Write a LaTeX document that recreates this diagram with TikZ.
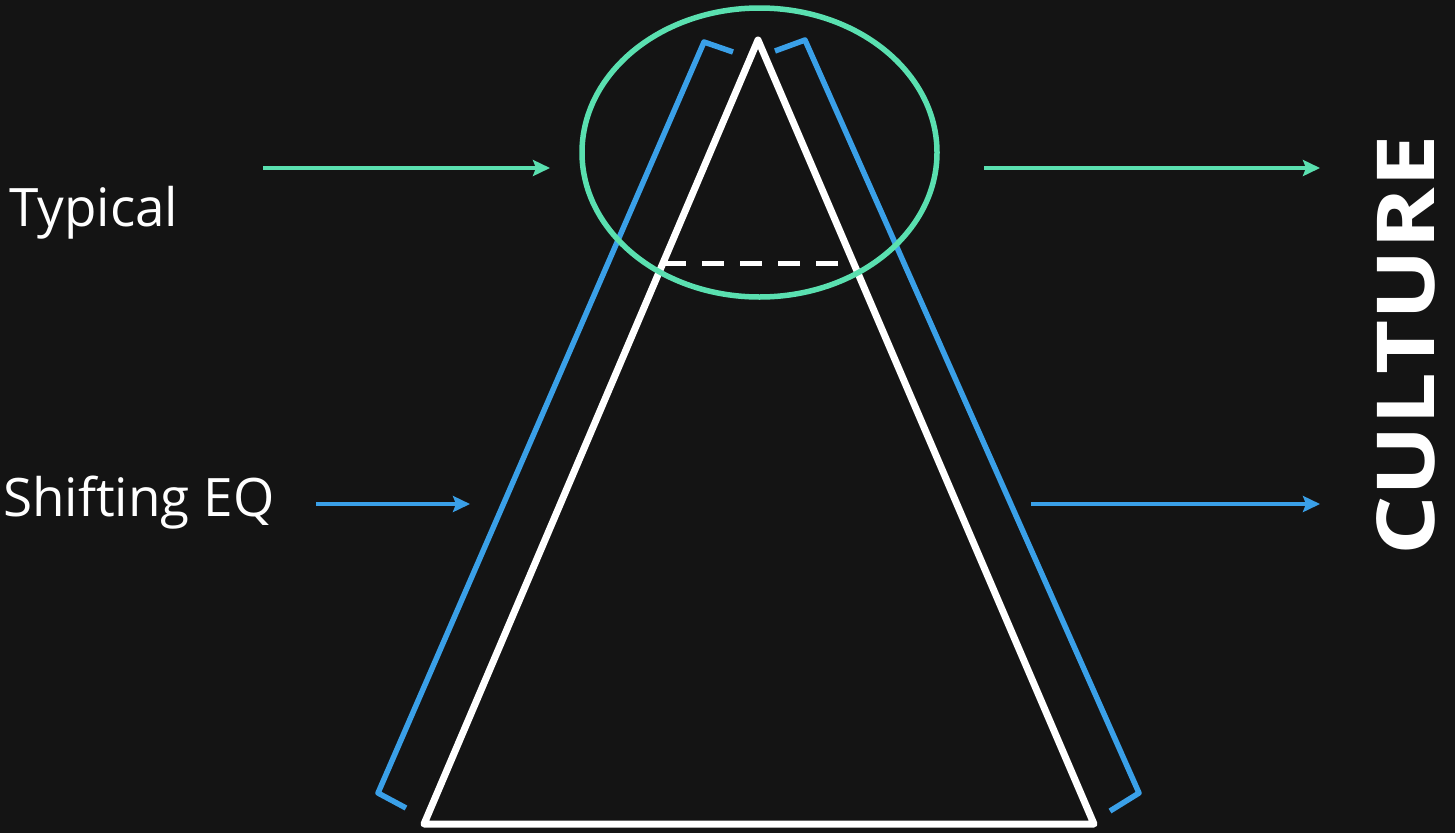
\documentclass[tikz,border=0pt]{standalone}
\usepackage{fontspec}
\setmainfont{Open Sans}
\usepackage{xcolor}
\usetikzlibrary{arrows.meta,shapes.geometric}

\definecolor{mint}{RGB}{90,224,176}
\definecolor{sky}{RGB}{58,160,232}
\definecolor{board}{RGB}{20,20,20}

\begin{document}
\begin{tikzpicture}[x=1pt,y=1pt,yscale=-1,
	pointer/.style={line width=4.5, -{Stealth[length=17,width=16,inset=3]}},
	sidetext/.style={text=white, inner sep=0pt, font=\fontsize{53}{60}\selectfont},
	]
	% background, sets the picture size
	\fill [board] (0,0) rectangle (1455,833);
	\useasboundingbox (0,0) rectangle (1455,833);

	% corners of the triangle
	\coordinate (apex) at (758,40);
	\coordinate (botL) at (424,824);
	\coordinate (botR) at (1094,824);

	%Shape: Triangle
	\draw [white, line width=7, line join=round] (apex) -- (botL) -- (botR) -- cycle;
	%Straight Lines: dashed cut
	\coordinate (cutL) at (664,263);
	\coordinate (cutR) at (855,263);
	\draw [white, line width=5, dash pattern={on 22 off 16}] (cutL) -- (cutR);

	%Shape: left bracket
	\coordinate (brLa) at (733,52);
	\coordinate (brLb) at (704,42);
	\coordinate (brLc) at (378,793);
	\coordinate (brLd) at (406,808);
	\draw [sky, line width=5.5, line join=round] (brLa) -- (brLb) -- (brLc) -- (brLd);
	%Shape: right bracket
	\coordinate (brRa) at (775,51);
	\coordinate (brRb) at (805,40);
	\coordinate (brRc) at (1139,793);
	\coordinate (brRd) at (1110,811);
	\draw [sky, line width=5.5, line join=round] (brRa) -- (brRb) -- (brRc) -- (brRd);

	%Shape: Ellipse
	\node (top) [draw=mint, line width=5.5, ellipse, minimum width=355, minimum height=289, inner sep=0pt] at (759.5,152.5) {};

	% Text Node
	\node (typ) [sidetext, anchor=base west] at (9,226) {Typical};
	% Text Node
	\node (shift) [sidetext, anchor=base west] at (3,516) {Shifting EQ};
	% Text Node
	\node (cult) [text=white, inner sep=0pt, rotate=90, font=\bfseries\fontsize{80}{90}\selectfont] at (1405.5,345.5) {\scalebox{1.17}[1]{CULTURE}};

	% arrow ends
	\coordinate (gInA) at (263,168);
	\coordinate (gInB) at (550,168);
	\coordinate (gOutA) at (984,168);
	\coordinate (gOutB) at (1320,168);
	\coordinate (bInA) at (316,504);
	\coordinate (bInB) at (470,504);
	\coordinate (bOutA) at (1031,504);
	\coordinate (bOutB) at (1320,504);

	%Straight Lines [arrows]
	\draw [pointer, mint] (gInA) -- (gInB);
	\draw [pointer, mint] (gOutA) -- (gOutB);
	\draw [pointer, sky] (bInA) -- (bInB);
	\draw [pointer, sky] (bOutA) -- (bOutB);
\end{tikzpicture}
\end{document}
